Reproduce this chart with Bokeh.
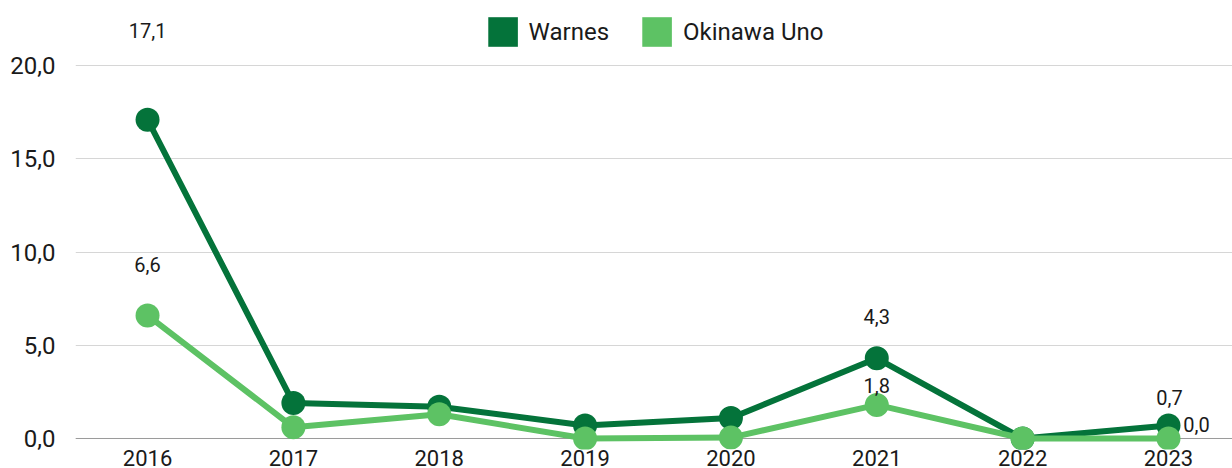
from bokeh.plotting import figure
from bokeh.models import (ColumnDataSource, Range1d, FixedTicker, Span, Legend,
                          LegendItem, CustomJSTickFormatter)
from bokeh.embed import file_html
from bokeh.resources import INLINE
from bokeh.core.properties import value

# ---- data ----
years = [2016, 2017, 2018, 2019, 2020, 2021, 2022, 2023]
warnes = [17.1, 1.9, 1.7, 0.7, 1.1, 4.3, 0.0, 0.7]
okinawa = [6.6, 0.6, 1.3, 0.0, 0.05, 1.8, 0.0, 0.0]
series_names = ["Warnes", "Okinawa Uno"]
y_ticks = [0, 5, 10, 15, 20]
# points that carry a value label (year list per series)
labelled_warnes = [2016, 2021, 2023]
labelled_okinawa = [2016, 2021, 2023]

# ---- styles ----
DARK = "#04733A"
LIGHT = "#5DC264"
FONT = "Roboto"
NAN = float("nan")
# label offsets in px (dx, dy) keyed by (series, year)
label_offsets = {
    ("w", 2016): (0, -89), ("w", 2021): (0, -42), ("w", 2023): (1, -28),
    ("o", 2016): (0, -51), ("o", 2021): (0, -19), ("o", 2023): (28, -14),
}

src = ColumnDataSource(dict(year=years, w=warnes, o=okinawa))

lx, ly, lt, ldx, ldy = [], [], [], [], []
for key, vals, labelled in (("w", warnes, labelled_warnes), ("o", okinawa, labelled_okinawa)):
    for yr, v in zip(years, vals):
        if yr in labelled:
            lx.append(yr)
            ly.append(v)
            lt.append(f"{v:.1f}".replace(".", ","))
            dx, dy = label_offsets[(key, yr)]
            ldx.append(dx)
            ldy.append(dy)
lab_src = ColumnDataSource(dict(x=lx, y=ly, t=lt, dx=ldx, dy=ldy))

p = figure(width=1232, height=468, output_backend="svg", toolbar_location=None,
           x_range=Range1d(2015.506, 2023.439), y_range=Range1d(-0.59, 23.49),
           min_border_left=75, min_border_right=0, min_border_top=0, min_border_bottom=0)
p.outline_line_color = None
p.background_fill_color = "white"
p.border_fill_color = "white"

# axes
p.xaxis.ticker = FixedTicker(ticks=years)
p.xaxis.axis_line_color = None
p.xaxis.major_tick_line_color = None
p.xaxis.minor_tick_line_color = None
p.xaxis.major_tick_out = 0
p.xaxis.major_tick_in = 0
p.xaxis.major_label_standoff = 0
p.xaxis.major_label_text_font = FONT
p.xaxis.major_label_text_font_size = "22px"
p.xaxis.major_label_text_color = "#1a1a1a"

p.yaxis.ticker = FixedTicker(ticks=y_ticks)
p.yaxis.formatter = CustomJSTickFormatter(code="return tick.toFixed(1).replace('.', ',')")
p.yaxis.axis_line_color = None
p.yaxis.major_tick_line_color = None
p.yaxis.minor_tick_line_color = None
p.yaxis.major_tick_out = 0
p.yaxis.major_tick_in = 0
p.yaxis.major_label_standoff = 20
p.yaxis.major_label_text_font = FONT
p.yaxis.major_label_text_font_size = "24px"
p.yaxis.major_label_text_color = "#1a1a1a"

p.xgrid.grid_line_color = None
p.ygrid.ticker = FixedTicker(ticks=y_ticks)
p.ygrid.grid_line_color = "#d6d6d6"
p.ygrid.grid_line_width = 1

p.add_layout(Span(location=0, dimension="width", line_color="#9a9a9a",
                  line_width=1, level="underlay"))

# series
p.line("year", "w", source=src, line_color=DARK, line_width=6, line_join="round")
p.scatter("year", "w", source=src, size=24, fill_color=DARK, line_color=None)
p.line("year", "o", source=src, line_color=LIGHT, line_width=6, line_join="round")
p.scatter("year", "o", source=src, size=24, fill_color=LIGHT, line_color=None)

# value labels
p.text("x", "y", text="t", source=lab_src, x_offset="dx", y_offset="dy",
       text_align="center", text_baseline="middle", text_font=value(FONT),
       text_font_size="20px", text_color="#1a1a1a")

# legend with square swatches (swatch renderers hold no visible data)
sw_w = p.quad(left=[NAN], right=[NAN], top=[NAN], bottom=[NAN], fill_color=DARK, line_color=None)
sw_o = p.quad(left=[NAN], right=[NAN], top=[NAN], bottom=[NAN], fill_color=LIGHT, line_color=None)
legend = Legend(items=[LegendItem(label=series_names[0], renderers=[sw_w]),
                       LegendItem(label=series_names[1], renderers=[sw_o])],
                location="top_center", orientation="horizontal",
                border_line_color=None, background_fill_alpha=0,
                padding=14, margin=13, spacing=29, label_standoff=8,
                glyph_width=37, glyph_height=37,
                label_text_font=FONT, label_text_font_size="24px",
                label_text_color="#1a1a1a")
p.add_layout(legend)

open("out.html", "w").write(file_html(p, INLINE))
